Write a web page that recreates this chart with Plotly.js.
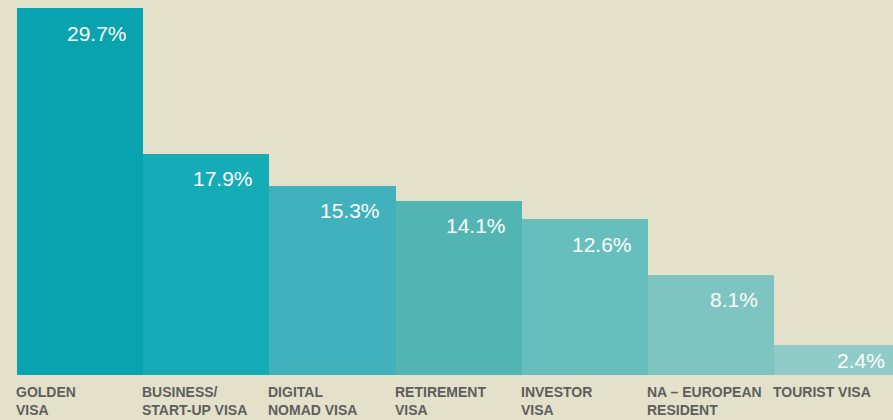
<!DOCTYPE html>
<html>
<head>
<meta charset="utf-8">
<script src="https://cdn.plot.ly/plotly-3.0.1.min.js"></script>
<style>html,body{margin:0;padding:0;background:#E3E1CA;}</style>
</head>
<body>
<div id="chart" style="width:893px;height:420px;"></div>
<script>
const categories = ["GOLDEN<br>VISA", "BUSINESS/<br>START-UP VISA", "DIGITAL<br>NOMAD VISA", "RETIREMENT<br>VISA", "INVESTOR<br>VISA", "NA – EUROPEAN<br>RESIDENT", "TOURIST VISA"];
const values = [29.7, 17.9, 15.3, 14.1, 12.6, 8.1, 2.4];
const valueLabels = ["29.7%", "17.9%", "15.3%", "14.1%", "12.6%", "8.1%", "2.4%"];
const barColors = ["#08A3AF", "#15ACB8", "#41B1BD", "#53B5B2", "#66BEBD", "#7EC5C1", "#8FCCC7"];

const idx = categories.map((_, i) => i);
const plotHeightPx = 367;
const yMax = 29.7;

const trace = {
  type: "bar",
  x: idx,
  y: values,
  marker: {color: barColors, line: {width: 0}},
  hoverinfo: "skip",
  cliponaxis: true
};

const annotations = [];
values.forEach((v, i) => {
  const barPx = v / yMax * plotHeightPx;
  annotations.push({
    xref: "x", yref: "y", x: i + 0.365, y: v,
    xanchor: "right", yanchor: "middle", yshift: -Math.min(25, barPx / 2), xshift: 3,
    text: valueLabels[i], showarrow: false,
    font: {family: "Liberation Sans, Arial, sans-serif", size: 21, color: "#FFFFFF"}
  });
  annotations.push({
    xref: "x", yref: "paper", x: i - 0.5, y: 0,
    xanchor: "left", yanchor: "top", yshift: -7, xshift: -3,
    align: "left",
    text: categories[i], showarrow: false,
    font: {family: "Liberation Sans, Arial, sans-serif", size: 14, color: "#5E5E5E", weight: "bold"}
  });
});

const layout = {
  width: 893, height: 420,
  margin: {l: 17, r: 0, t: 8, b: 45},
  paper_bgcolor: "#E3E1CA",
  plot_bgcolor: "#E3E1CA",
  bargap: 0,
  showlegend: false,
  xaxis: {range: [-0.5, 6.44], showgrid: false, zeroline: false, showticklabels: false, ticks: "", showline: false, fixedrange: true},
  yaxis: {range: [0, yMax], showgrid: false, zeroline: false, showticklabels: false, ticks: "", showline: false, fixedrange: true},
  annotations: annotations
};

Plotly.newPlot("chart", [trace], layout, {displayModeBar: false, staticPlot: true});
</script>
</body>
</html>
